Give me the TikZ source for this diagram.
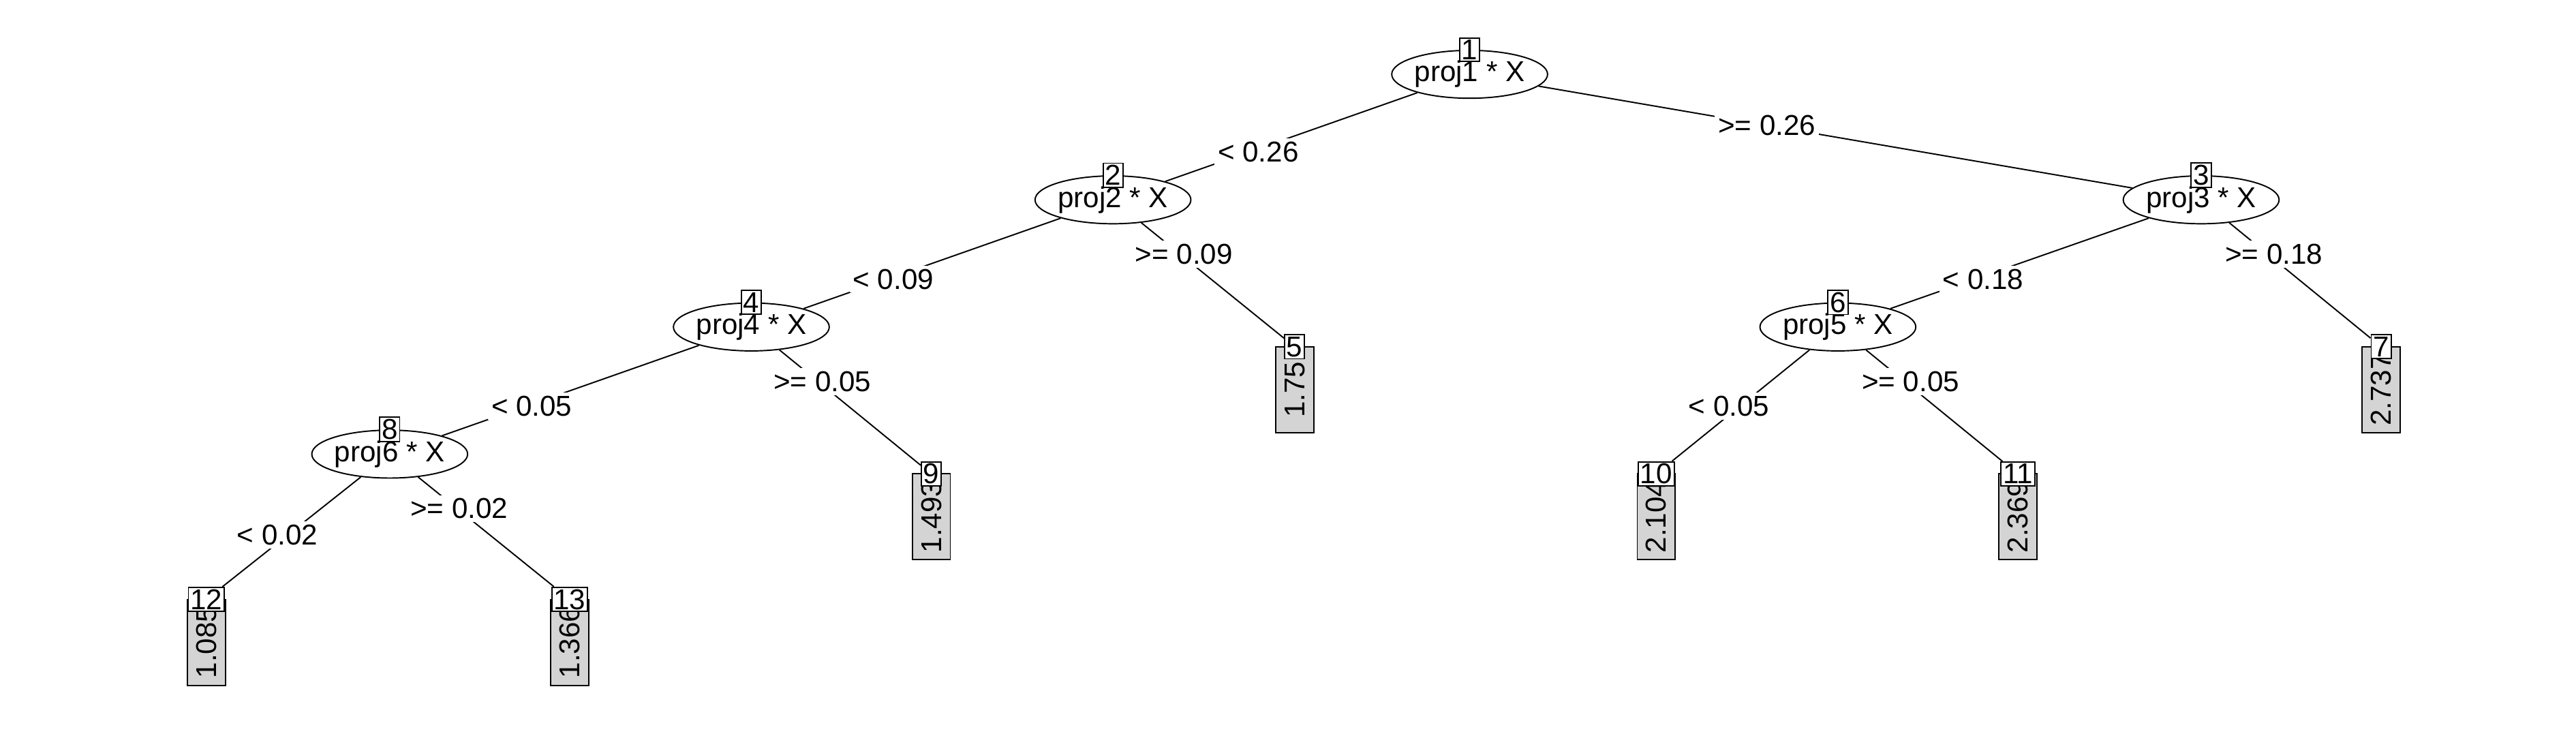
\documentclass[tikz,border=0pt]{standalone}
\usepackage{fontspec}
\setmainfont{Liberation Sans}
\usetikzlibrary{shapes.geometric}
\tikzset{
  split/.style={ellipse,draw,minimum width=36pt,minimum height=14.5pt,inner sep=0pt,font=\fontsize{8.7}{9}\selectfont},
  idbox/.style={draw,fill=white,inner sep=0.6pt,font=\fontsize{8.7}{9}\selectfont},
  leaf/.style={draw,fill=black!17,rotate=90,minimum width=26pt,minimum height=11.5pt,inner sep=0pt,font=\fontsize{8.7}{9}\selectfont},
  cond/.style={fill=white,inner sep=1pt,font=\fontsize{8.7}{9}\selectfont}
}
\begin{document}
\begin{tikzpicture}[x=0.5pt,y=0.5pt,yscale=-1,xscale=1]
\useasboundingbox (0,0) rectangle (1560,445.7);

% Split nodes
\node[split] (n1) at (890,45) {proj1 * X};
\node[split] (n2) at (674,121) {proj2 * X};
\node[split] (n3) at (1333,121) {proj3 * X};
\node[split] (n4) at (455,198) {proj4 * X};
\node[split] (n6) at (1113,198) {proj5 * X};
\node[split] (n8) at (236,275) {proj6 * X};

% Leaf nodes
\node[leaf] (f5) at (784,236) {1.75};
\node[leaf] (f7) at (1442,236) {2.737};
\node[leaf] (f9) at (564,313) {1.493};
\node[leaf] (f10) at (1003,313) {2.104};
\node[leaf] (f11) at (1222,313) {2.369};
\node[leaf] (f12) at (125,389) {1.085};
\node[leaf] (f13) at (345,389) {1.366};

% Edges
\draw (n1) -- (n2);
\draw (n1) -- (n3);
\draw (n2) -- (n4);
\draw (n3) -- (n6);
\draw (n4) -- (n8);

% Number boxes
\foreach \k in {1,2,3,4,6,8}
  \node[idbox] (b\k) at (n\k.north) {\k};
\foreach \k in {5,7,9,10,11,12,13}
  \node[idbox] (b\k) at ([yshift=-13pt]f\k.center) {\k};

% Edges to leaves
\draw (n2) -- (b5);
\draw (n3) -- (b7);
\draw (n4) -- (b9);
\draw (n6) -- (b10);
\draw (n6) -- (b11);
\draw (n8) -- (b12);
\draw (n8) -- (b13);

% Split conditions
\node[cond] (c2) at (762,92) {< 0.26};
\node[cond] (c3) at (1070,76) {>= 0.26};
\node[cond] (c4) at (541,169) {< 0.09};
\node[cond] (c5) at (717,154) {>= 0.09};
\node[cond] (c6) at (1201,169) {< 0.18};
\node[cond] (c7) at (1377,154) {>= 0.18};
\node[cond] (c8) at (322,246) {< 0.05};
\node[cond] (c9) at (498,231) {>= 0.05};
\node[cond] (c10) at (1047,246) {< 0.05};
\node[cond] (c11) at (1157,231) {>= 0.05};
\node[cond] (c12) at (168,324) {< 0.02};
\node[cond] (c13) at (278,308) {>= 0.02};
\end{tikzpicture}
\end{document}
